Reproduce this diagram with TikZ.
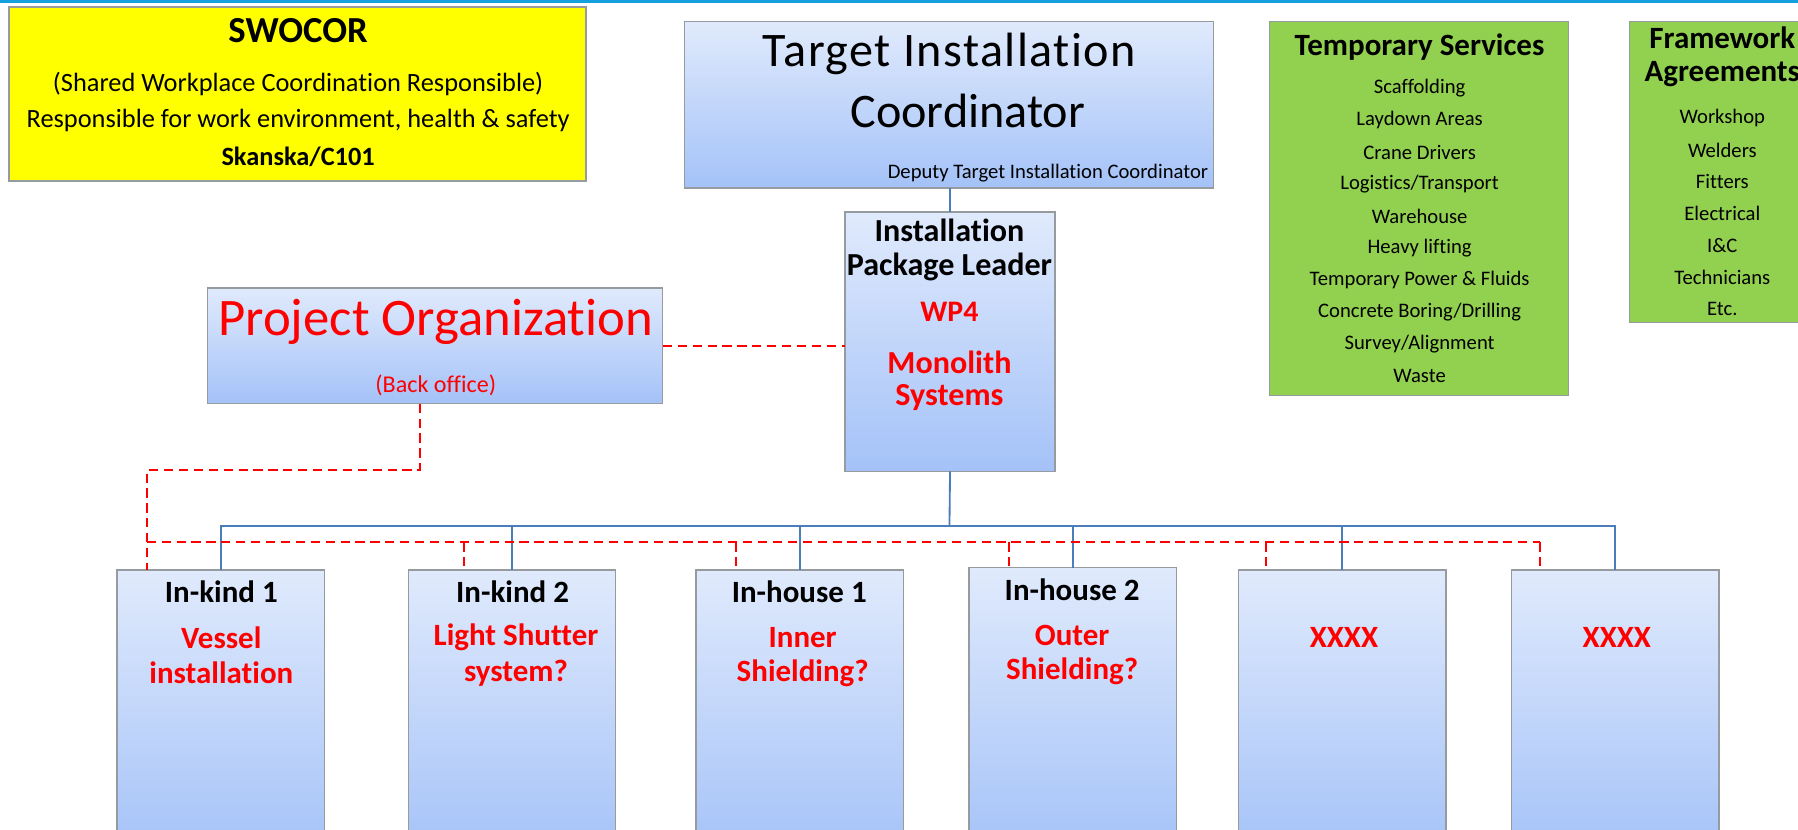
\documentclass[tikz,border=0pt]{standalone}
\usepackage{fontspec}
\setmainfont{Carlito}[Ligatures=NoCommon]
\definecolor{boxtop}{RGB}{224,234,252}
\definecolor{boxbot}{RGB}{164,194,248}
\definecolor{boxedge}{RGB}{150,155,160}
\definecolor{orgblue}{RGB}{74,126,187}
\definecolor{topcyan}{RGB}{20,160,222}
\definecolor{tsgreen}{RGB}{146,208,80}
\definecolor{swyellow}{RGB}{255,255,0}
\definecolor{txtred}{RGB}{255,0,0}
\tikzset{
  bluebox/.style={draw=boxedge, line width=0.6pt, top color=boxtop, bottom color=boxbot, inner sep=0pt, outer sep=0pt, anchor=north west},
  greenbox/.style={draw=boxedge, line width=0.6pt, fill=tsgreen, inner sep=0pt, outer sep=0pt, anchor=north west},
  yellowbox/.style={draw=boxedge, line width=0.6pt, fill=swyellow, inner sep=0pt, outer sep=0pt, anchor=north west},
  lowbox/.style={bluebox, minimum width=90.5pt, minimum height=125pt},
  blueline/.style={draw=orgblue, line width=0.8pt},
  reddash/.style={draw=txtred, line width=0.9pt, dash pattern=on 4pt off 2.5pt},
  lbl/.style={inner sep=0pt, anchor=center},
  hdr/.style={lbl, font=\fontsize{13.5}{16}\selectfont\bfseries},
  redb/.style={lbl, text=txtred, font=\fontsize{13.5}{16}\selectfont\bfseries},
  item/.style={lbl, font=\fontsize{9}{11}\selectfont},
}
\begin{document}
\begin{tikzpicture}[x=0.5pt,y=-0.5pt]
\useasboundingbox (0,0) rectangle (1568,723);
\clip (0,0) rectangle (1568,723);
\draw[topcyan, line width=1.5pt] (0,1.5) -- (1568,1.5);

% SWOCOR
\node[yellowbox, minimum width=251.5pt, minimum height=76pt] (sw) at (8,6) {};
\node[lbl, font=\fontsize{16}{19}\selectfont\bfseries] (swt1) at (260,27) {SWOCOR};
\node[lbl, font=\fontsize{11.5}{14}\selectfont] (swt2) at (260,73) {(Shared Workplace Coordination Responsible)};
\node[lbl, font=\fontsize{11.5}{14}\selectfont] (swt3) at (260,105) {Responsible for work environment, health \& safety};
\node[lbl, font=\fontsize{11.5}{14}\selectfont\bfseries] (swt4) at (260,137) {Skanska/C101};

% Target Installation Coordinator
\node[bluebox, minimum width=230.5pt, minimum height=72.5pt] (tic) at (597,19) {};
\node[lbl, font=\fontsize{21}{25}\selectfont\addfontfeature{LetterSpace=3}] (tict1) at (828,47) {Target Installation};
\node[lbl, font=\fontsize{21}{25}\selectfont] (tict2) at (844,97) {Coordinator};
\node[inner sep=0pt, anchor=east, font=\fontsize{9}{11}\selectfont] (tict3) at (1054,151) {Deputy Target Installation Coordinator};

% Installation Package Leader
\node[bluebox, minimum width=91.5pt, minimum height=113pt] (ipl) at (737,185) {};
\node[hdr, font=\fontsize{14}{17}\selectfont\bfseries] (iplt1) at (828,201) {Installation};
\node[hdr, font=\fontsize{14}{17}\selectfont\bfseries] (iplt2) at (828,233) {Package Leader};
\node[redb, font=\fontsize{13}{16}\selectfont\bfseries] (iplt3) at (828,272) {WP4};
\node[redb, font=\fontsize{14}{17}\selectfont\bfseries] (iplt4) at (828,316) {Monolith};
\node[redb, font=\fontsize{14}{17}\selectfont\bfseries] (iplt5) at (828,347) {Systems};

% Project Organization
\node[bluebox, minimum width=198.5pt, minimum height=50.5pt] (po) at (181,251) {};
\node[lbl, text=txtred, font=\fontsize{23}{27}\selectfont] (pot1) at (380,281) {Project Organization};
\node[lbl, text=txtred, font=\fontsize{10.5}{13}\selectfont] (pot2) at (380,336) {(Back office)};

% Temporary Services
\node[greenbox, minimum width=130.5pt, minimum height=163pt] (ts) at (1107,19) {};
\node[hdr] (tst) at (1238,41) {Temporary Services};
\foreach \t [count=\i from 0] in {Scaffolding,Laydown Areas,Crane Drivers,Logistics/Transport,Warehouse,Heavy lifting,Temporary Power \& Fluids,Concrete Boring/Drilling,Survey/Alignment,Waste}
  \node[item] (tsi\i) at (1238,77+27.9*\i) {\t};

% Framework Agreements
\node[greenbox, minimum width=80pt, minimum height=131pt] (fa) at (1421,19) {};
\node[hdr] (fat1) at (1502,33) {Framework};
\node[hdr] (fat2) at (1502,65) {Agreements};
\foreach \t [count=\i from 0] in {Workshop,Welders,Fitters,Electrical,I\&C,Technicians,Etc.}
  \node[item] (fai\i) at (1502,103+27.8*\i) {\t};

% Bottom boxes
\node[lowbox] (b1) at (102,497) {};
\node[lowbox] (b2) at (356,497) {};
\node[lowbox] (b3) at (607,497) {};
\node[lowbox] (b4) at (845,495) {};
\node[lowbox] (b5) at (1080,497) {};
\node[lowbox] (b6) at (1318,497) {};

\node[hdr] (b1h) at (193,516) {In-kind 1};
\node[redb] (b1r1) at (193,556) {Vessel};
\node[redb] (b1r2) at (193,587) {installation};
\node[hdr] (b2h) at (447,516) {In-kind 2};
\node[redb] (b2r1) at (450,556) {Light Shutter};
\node[redb] (b2r2) at (450,587) {system?};
\node[hdr] (b3h) at (697,516) {In-house 1};
\node[redb] (b3r1) at (700,556) {Inner};
\node[redb] (b3r2) at (700,587) {Shielding?};
\node[hdr] (b4h) at (935,514) {In-house 2};
\node[redb] (b4r1) at (935,554) {Outer};
\node[redb] (b4r2) at (935,585) {Shielding?};
\node[redb] (b5r1) at (1172,556) {XXXX};
\node[redb] (b6r1) at (1410,556) {XXXX};

% Blue solid connectors
\coordinate (bus) at (828,459);
\draw[blueline] (tic.south -| ipl.north) -- (ipl.north);
\draw[blueline] (ipl.south) -- (bus);
\foreach \b in {b1,b2,b3,b4,b5,b6}
  \draw[blueline] (\b.north) |- (bus);

% Red dashed connectors
\coordinate (rd1) at (366,410);
\coordinate (rd2) at (128,410);
\coordinate (rb1) at (128,473);
\coordinate (rb2) at (405,473);
\coordinate (rb3) at (642,473);
\coordinate (rb4) at (880,473);
\coordinate (rb5) at (1104,473);
\coordinate (rb6) at (1343,473);
\draw[reddash] (po.east) -- (po.east -| ipl.west);
\draw[reddash] (po.south -| rd1) -- (rd1) -- (rd2) -- (rd2 |- b1.north);
\draw[reddash] (rb1) -- (rb6);
\draw[reddash] (rb2) -- (rb2 |- b2.north);
\draw[reddash] (rb3) -- (rb3 |- b3.north);
\draw[reddash] (rb4) -- (rb4 |- b4.north);
\draw[reddash] (rb5) -- (rb5 |- b5.north);
\draw[reddash] (rb6) -- (rb6 |- b6.north);
\end{tikzpicture}
\end{document}
